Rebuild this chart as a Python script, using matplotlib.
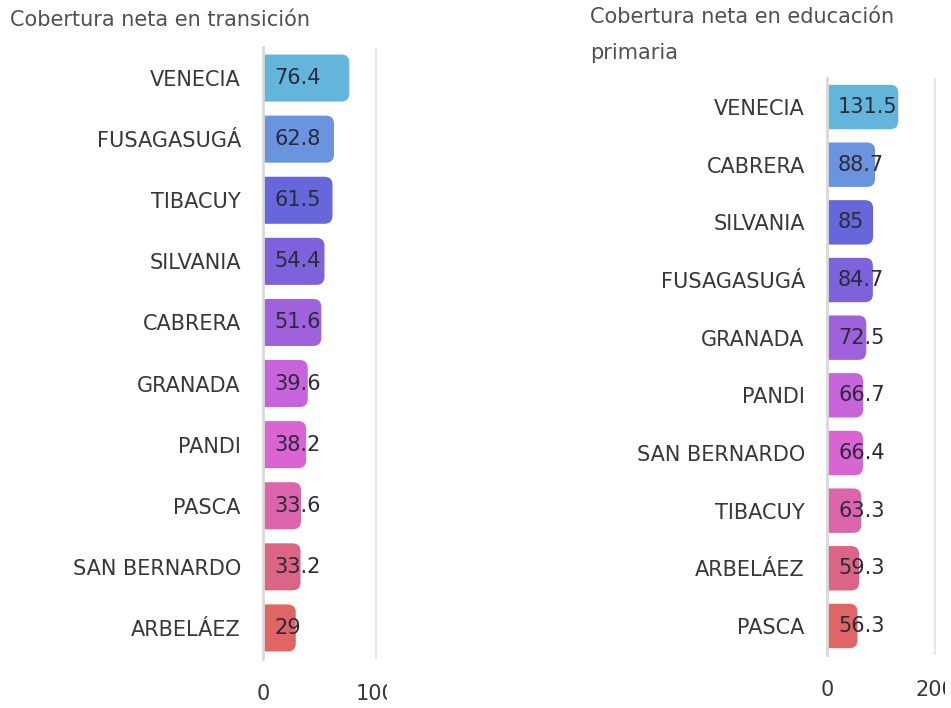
import matplotlib
matplotlib.use("Agg")
import matplotlib.pyplot as plt
from matplotlib.patches import FancyBboxPatch
from matplotlib.transforms import Bbox, TransformedBbox

# ---------------- data ----------------
left_title = "Cobertura neta en transición"
left_cats = ["VENECIA", "FUSAGASUGÁ", "TIBACUY", "SILVANIA", "CABRERA",
             "GRANADA", "PANDI", "PASCA", "SAN BERNARDO", "ARBELÁEZ"]
left_vals = [76.4, 62.8, 61.5, 54.4, 51.6, 39.6, 38.2, 33.6, 33.2, 29]
left_ticks = [0, 100]

right_title = "Cobertura neta en educación\nprimaria"
right_cats = ["VENECIA", "CABRERA", "SILVANIA", "FUSAGASUGÁ", "GRANADA",
              "PANDI", "SAN BERNARDO", "TIBACUY", "ARBELÁEZ", "PASCA"]
right_vals = [131.5, 88.7, 85, 84.7, 72.5, 66.7, 66.4, 63.3, 59.3, 56.3]
right_ticks = [0, 200]

colors = ["#64b5db", "#6a93e0", "#6567da", "#7e62dc", "#a062dc",
          "#c764dc", "#da64d2", "#dc64ab", "#dc6485", "#e06666"]

FONT = ["DejaVu Sans"]
plt.rcParams["font.family"] = FONT
FS = 15

W, H = 951, 708
fig = plt.figure(figsize=(W / 100, H / 100), dpi=100)


def px_axes(x0, x1, ytop, ybot):
    return fig.add_axes([x0 / W, 1 - ybot / H, (x1 - x0) / W, (ybot - ytop) / H])


def draw_panel(ax, cats, vals, ticks, xmax, clip_right_px):
    n = len(cats)
    ys = list(range(n))
    ax.set_xlim(0, xmax)
    ax.set_ylim(n - 0.5, -0.5)
    bars = ax.barh(ys, vals, height=0.77, color=colors[:n])
    fig.canvas.draw()
    p0 = ax.transData.transform((0, 0))
    p1 = ax.transData.transform((1, 1))
    sx = abs(p1[0] - p0[0])
    sy = abs(p1[1] - p0[1])
    r_px = 8.0
    rx = r_px / sx
    for b, c in zip(bars, colors):
        b.set_visible(False)
        x, y, w, h = b.get_x(), b.get_y(), b.get_width(), b.get_height()
        patch = FancyBboxPatch((x - 2 * rx, y), w + 2 * rx, h,
                               boxstyle=f"round,pad=0,rounding_size={rx}",
                               mutation_aspect=sx / sy,
                               facecolor=c, edgecolor="none", zorder=2)
        patch.set_clip_path(ax.patch)
        ax.add_patch(patch)
    for yv, v in zip(ys, vals):
        ax.text(11 / sx, yv, f"{v:g}", va="center", ha="left",
                fontsize=FS, color="#2a2a3a", zorder=3)
    ax.set_yticks(ys)
    ax.set_yticklabels(cats, fontsize=FS, color="#383838")
    ax.tick_params(axis="y", length=0, pad=16)
    ax.set_xticks(ticks)
    ax.set_xticklabels([str(t) for t in ticks], fontsize=FS, color="#383838")
    ax.tick_params(axis="x", length=0, pad=18)
    for s in ["top", "right", "bottom"]:
        ax.spines[s].set_visible(False)
    ax.spines["left"].set_color("#d9d9d9")
    ax.spines["left"].set_linewidth(2)
    ax.spines["left"].set_zorder(4)
    ax.xaxis.grid(True, color="#e6e6e6", linewidth=1.6)
    ax.set_axisbelow(True)
    clip = TransformedBbox(Bbox([[0, 0], [clip_right_px / W, 1]]), fig.transFigure)
    for lab in ax.get_xticklabels():
        lab.set_clip_on(True)
        lab.set_clip_box(clip)


axL = px_axes(263, 387, 47.5, 658.5)
draw_panel(axL, left_cats, left_vals, left_ticks, (387 - 263) / 1.13, 387)

axR = px_axes(827, 945, 78.2, 654.8)
draw_panel(axR, right_cats, right_vals, right_ticks, (945 - 827) / 0.5417, 945)

fig.text(10 / W, 1 - 20 / H, left_title, fontsize=FS, color="#505050",
         ha="left", va="center")
fig.text(590 / W, 1 - 35 / H, right_title, fontsize=FS, color="#505050",
         ha="left", va="center", linespacing=1.95)

fig.savefig("out.png", dpi=100)
